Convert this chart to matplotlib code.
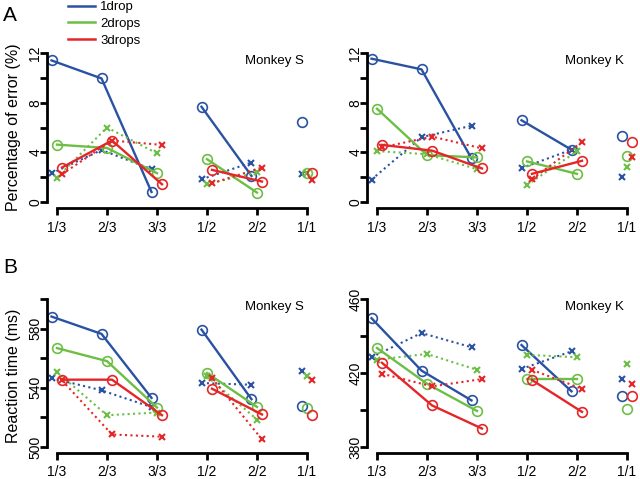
import matplotlib
matplotlib.use('Agg')
import matplotlib.pyplot as plt
from matplotlib.lines import Line2D

plt.rcParams['font.family'] = ['Liberation Sans', 'DejaVu Sans']

positions = [1, 2, 3, 4, 5, 6]
tick_labels = ['1/3', '2/3', '3/3', '1/2', '2/2', '1/1']
groups = [[0, 1, 2], [3, 4], [5]]
series_names = ['1drop', '2drops', '3drops']
colors = ['#2A52A3', '#6DBE45', '#E42628']
offsets = [-0.11, 0.0, 0.1]

# percentage of error, Monkey S (o = solid/circles, x = dotted/crosses)
err_S_o_1 = [11.4, 9.95, 0.81, 7.67, 2.1, 6.45]
err_S_x_1 = [2.3, 4.19, 2.65, 1.83, 3.18, 2.27]
err_S_o_2 = [4.62, 4.35, 2.32, 3.45, 0.76, 2.3]
err_S_x_2 = [1.97, 6.0, 3.92, 1.46, 2.38, 2.35]
err_S_o_3 = [2.78, 4.95, 1.43, 2.59, 1.65, 2.37]
err_S_x_3 = [2.24, 4.95, 4.6, 1.51, 2.78, 1.78]

# percentage of error, Monkey K
err_K_o_1 = [11.54, 10.68, 3.51, 6.58, 4.21, 5.34]
err_K_x_1 = [1.81, 5.22, 6.14, 2.73, 4.21, 2.05]
err_K_o_2 = [7.51, 3.78, 3.59, 3.27, 2.27, 3.67]
err_K_x_2 = [4.1, 3.85, 2.65, 1.38, 4.08, 2.86]
err_K_o_3 = [4.6, 4.14, 2.7, 2.27, 3.32, 4.83]
err_K_x_3 = [4.4, 5.27, 4.32, 1.84, 4.83, 3.59]

# reaction time, Monkey S
rt_S_o_1 = [588.1, 576.4, 533.2, 579.3, 532.3, 527.8]
rt_S_x_1 = [546.6, 538.3, 527.0, 543.2, 542.1, 551.1]
rt_S_o_2 = [566.8, 558.0, 526.7, 550.0, 527.1, 526.4]
rt_S_x_2 = [550.6, 521.5, 523.3, 547.7, 518.6, 547.7]
rt_S_o_3 = [545.5, 545.5, 521.5, 539.4, 522.0, 521.5]
rt_S_x_3 = [545.0, 508.5, 507.0, 546.6, 505.2, 545.0]

# reaction time, Monkey K
rt_K_o_1 = [449.6, 421.3, 405.2, 435.1, 410.1, 407.4]
rt_K_x_1 = [428.5, 441.6, 433.9, 422.2, 431.7, 416.9]
rt_K_o_2 = [433.5, 414.2, 399.5, 416.5, 416.5, 400.4]
rt_K_x_2 = [427.2, 430.3, 421.7, 429.8, 428.5, 424.9]
rt_K_o_3 = [425.5, 402.5, 390.0, 416.2, 399.0, 407.4]
rt_K_x_3 = [419.6, 412.8, 416.7, 421.7, 411.5, 413.8]


def draw_panel(ax, circ, cross, ymin, ymax, ystep, title):
    for k in range(3):
        c = colors[k]
        for g in groups:
            xs = [positions[i] + offsets[k] for i in g]
            ax.plot(xs, [circ[k][i] for i in g], '-', color=c, lw=1.7,
                    marker='o', ms=7, mfc='none', mec=c, mew=1.2)
            ax.plot(xs, [cross[k][i] for i in g], color=c, lw=1.5,
                    ls=(0, (1, 1.6)), marker='x', ms=5, mew=1.5)
    pad = (ymax - ymin) * 0.04
    ax.set_xlim(0.8, 6.2)
    ax.set_ylim(ymin - pad, ymax + pad)
    for s in ['top', 'right']:
        ax.spines[s].set_visible(False)
    for s in ['left', 'bottom']:
        ax.spines[s].set_linewidth(2)
    ax.spines['bottom'].set_bounds(1, 6)
    ax.spines['left'].set_bounds(ymin, ymax)
    ax.set_xticks(positions)
    ax.set_xticklabels(tick_labels)
    yt = list(range(ymin, ymax + 1, ystep))
    ax.set_yticks(yt)
    ax.set_yticklabels([str(v) if i % 2 == 0 else '' for i, v in enumerate(yt)])
    ax.tick_params(width=2, length=5, labelsize=10, direction='out')
    ax.tick_params(axis='x', pad=4)
    ax.tick_params(axis='y', labelrotation=90, pad=-1.5)
    plt.setp(ax.get_yticklabels(), va='center')
    ax.text(0.735, 0.915, title, transform=ax.transAxes, fontsize=9.5,
            ha='left', va='center')


fig = plt.figure(figsize=(6.4, 4.79), dpi=100)
W, H = 640, 479
axA1 = fig.add_axes([47 / W, 1 - 208 / H, 270 / W, 161 / H])
axA2 = fig.add_axes([367 / W, 1 - 208 / H, 270 / W, 161 / H])
axB1 = fig.add_axes([47 / W, 1 - 453 / H, 270 / W, 160 / H])
axB2 = fig.add_axes([367 / W, 1 - 453 / H, 270 / W, 160 / H])

draw_panel(axA1, [err_S_o_1, err_S_o_2, err_S_o_3],
           [err_S_x_1, err_S_x_2, err_S_x_3], 0, 12, 2, 'Monkey S')
draw_panel(axA2, [err_K_o_1, err_K_o_2, err_K_o_3],
           [err_K_x_1, err_K_x_2, err_K_x_3], 0, 12, 2, 'Monkey K')
draw_panel(axB1, [rt_S_o_1, rt_S_o_2, rt_S_o_3],
           [rt_S_x_1, rt_S_x_2, rt_S_x_3], 500, 600, 20, 'Monkey S')
draw_panel(axB2, [rt_K_o_1, rt_K_o_2, rt_K_o_3],
           [rt_K_x_1, rt_K_x_2, rt_K_x_3], 380, 460, 20, 'Monkey K')

axA1.set_ylabel('Percentage of error (%)', fontsize=11.5)
axA1.yaxis.set_label_coords(-0.095, 0.5)
axB1.set_ylabel('Reaction time (ms)', fontsize=11.5)
axB1.yaxis.set_label_coords(-0.095, 0.48)

leg_handles = [Line2D([], [], color=c, lw=1.8) for c in colors]
fig.legend(leg_handles, series_names, loc='upper left',
           bbox_to_anchor=(68 / W, 1 - 1 / H), frameon=False, fontsize=9.5,
           handlelength=2.05, handletextpad=0.4, labelspacing=0.35,
           borderpad=0, borderaxespad=0)

fig.text(3 / W, 1 - 21 / H, 'A', fontsize=15, va='baseline')
fig.text(3 / W, 1 - 273 / H, 'B', fontsize=15, va='baseline')

fig.savefig('out.png', dpi=100)
